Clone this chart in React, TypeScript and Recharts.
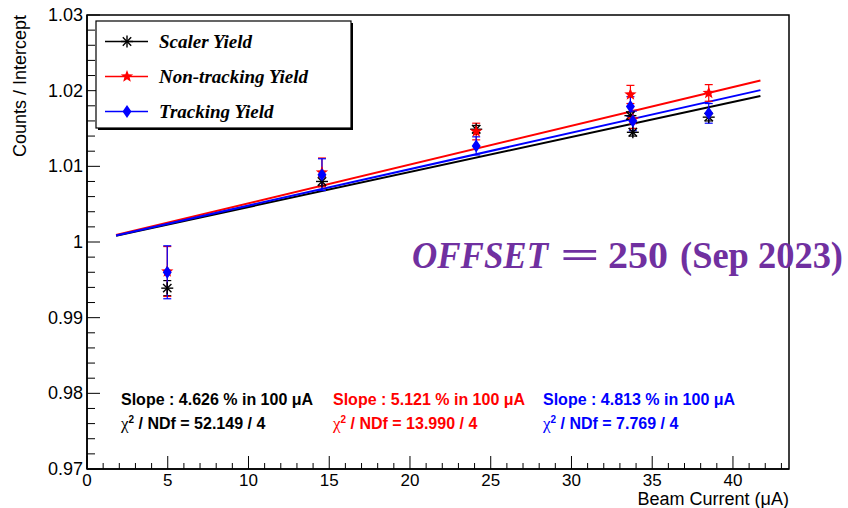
import React from "react";
import {
  ComposedChart,
  Line,
  Scatter,
  ErrorBar,
  XAxis,
  YAxis,
  ReferenceArea,
} from "recharts";

// beam currents (uA) of the six runs
const currents = [4.97, 14.55, 24.1, 33.65, 33.8, 38.5];

// yields normalised to the fit intercept
const scalerYield = [0.9939, 1.008, 1.0149, 1.0167, 1.0145, 1.0165];
const scalerErr = [0.001, 0.0006, 0.0005, 0.0005, 0.0005, 0.0005];
const nonTrackingYield = [0.9961, 1.0092, 1.0146, 1.0195, 1.0162, 1.0197];
const nonTrackingErr = [0.0033, 0.0019, 0.0011, 0.0012, 0.0012, 0.0011];
const trackingYield = [0.996, 1.0089, 1.0127, 1.0179, 1.016, 1.017];
const trackingErr = [0.0035, 0.0021, 0.0012, 0.0013, 0.0013, 0.0013];

// linear fit results
const fitRange = [1.8, 41.7];
const slopes = [4.626, 5.121, 4.813]; // % per 100 uA
const chi2 = [52.149, 13.99, 7.769];
const ndf = 4;

const seriesNames = ["Scaler Yield", "Non-tracking Yield", "Tracking Yield"];
const seriesColors = ["#000000", "#ff0000", "#0000ff"];

const xMajorTicks = [0, 5, 10, 15, 20, 25, 30, 35, 40];
const yMajorTicks = [0.97, 0.98, 0.99, 1.0, 1.01, 1.02, 1.03];

const W = 848;
const H = 508;
const SANS = "'Liberation Sans', Arial, sans-serif";
const SERIF = "'Liberation Serif', 'Times New Roman', serif";

const toPoints = (vals: number[], errs: number[]) =>
  currents.map((x, i) => ({ x, y: vals[i], err: errs[i] }));

const toFit = (slope: number) =>
  fitRange.map((x) => ({ x, y: 1 + (slope / 100) * (x / 100) }));

// minor ticks: 1 uA on x, 0.002 on y
const xTicks: number[] = [];
for (let i = 0; i <= 43; i++) xTicks.push(i);
const yTicks: number[] = [];
yMajorTicks.forEach((v, i) => {
  yTicks.push(v);
  if (i < yMajorTicks.length - 1)
    for (let k = 1; k < 5; k++) yTicks.push(+(v + k * 0.002).toFixed(3));
});

const XTick = (props: any) => {
  const { x, y, payload } = props;
  const major = xMajorTicks.includes(payload.value);
  return (
    <g>
      <line x1={x} x2={x} y1={y} y2={y - (major ? 13 : 6)} stroke="#000" />
      {major && (
        <text x={x} y={y + 17} textAnchor="middle" fontSize={17} fontFamily={SANS} fill="#000">
          {payload.value}
        </text>
      )}
    </g>
  );
};

const YTick = (props: any) => {
  const { x, y, payload } = props;
  const major = yMajorTicks.some((m) => Math.abs(m - payload.value) < 1e-6);
  return (
    <g>
      <line x1={x} x2={x + (major ? 13 : 8)} y1={y} y2={y} stroke="#000" />
      {major && (
        <text x={x - 4} y={y + 6} textAnchor="end" fontSize={18} fontFamily={SANS} fill="#000">
          {String(parseFloat(payload.value.toFixed(2)))}
        </text>
      )}
    </g>
  );
};

const Asterisk = ({ cx, cy, color = "#000", r = 6 }: any) => (
  <g stroke={color} strokeWidth={1.4}>
    <line x1={cx - r} x2={cx + r} y1={cy} y2={cy} />
    <line x1={cx} x2={cx} y1={cy - r} y2={cy + r} />
    <line x1={cx - r * 0.7} x2={cx + r * 0.7} y1={cy - r * 0.7} y2={cy + r * 0.7} />
    <line x1={cx - r * 0.7} x2={cx + r * 0.7} y1={cy + r * 0.7} y2={cy - r * 0.7} />
  </g>
);

const Star = ({ cx, cy, color = "#f00", r = 6.5 }: any) => {
  const pts: string[] = [];
  for (let i = 0; i < 10; i++) {
    const a = (Math.PI / 5) * i - Math.PI / 2;
    const rr = i % 2 === 0 ? r : r * 0.42;
    pts.push(`${cx + rr * Math.cos(a)},${cy + rr * Math.sin(a)}`);
  }
  return <polygon points={pts.join(" ")} fill={color} />;
};

const Diamond = ({ cx, cy, color = "#00f" }: any) => (
  <polygon
    points={`${cx},${cy - 6.5} ${cx + 4.5},${cy} ${cx},${cy + 6.5} ${cx - 4.5},${cy}`}
    fill={color}
  />
);

const markers = [Asterisk, Star, Diamond];

const series = [
  { pts: toPoints(scalerYield, scalerErr), fit: toFit(slopes[0]) },
  { pts: toPoints(nonTrackingYield, nonTrackingErr), fit: toFit(slopes[1]) },
  { pts: toPoints(trackingYield, trackingErr), fit: toFit(slopes[2]) },
];

const statsX = [121, 333, 543];

export default function App() {
  return (
    <div style={{ position: "absolute", left: 0, top: 0, width: W, height: H, background: "#fff" }}>
      <ComposedChart
        width={W}
        height={H}
        margin={{ top: 15, right: 59, bottom: 9, left: 27 }}
      >
        <XAxis
          dataKey="x"
          type="number"
          domain={[0, 43.47]}
          allowDataOverflow
          ticks={xTicks}
          interval={0}
          tick={<XTick />}
          tickSize={0}
          tickMargin={0}
          tickLine={false}
          axisLine={{ stroke: "#000", strokeWidth: 1.5 }}
          height={30}
        />
        <YAxis
          type="number"
          domain={[0.97, 1.03]}
          allowDataOverflow
          ticks={yTicks}
          interval={0}
          tick={<YTick />}
          tickSize={0}
          tickMargin={0}
          tickLine={false}
          axisLine={{ stroke: "#000", strokeWidth: 1.5 }}
          width={60}
        />
        <ReferenceArea
          x1={0}
          x2={43.47}
          y1={0.97}
          y2={1.03}
          fill="none"
          fillOpacity={0}
          stroke="#000"
          strokeWidth={1.5}
          ifOverflow="visible"
        />
        {series.map((s, i) => (
          <Line
            key={`fit-${i}`}
            data={s.fit}
            dataKey="y"
            type="linear"
            stroke={seriesColors[i]}
            strokeWidth={2}
            dot={false}
            activeDot={false}
            isAnimationActive={false}
          />
        ))}
        {series.map((s, i) => {
          const M = markers[i];
          return (
            <Scatter
              key={`pts-${i}`}
              data={s.pts}
              dataKey="y"
              isAnimationActive={false}
              shape={(p: any) => <M cx={p.cx} cy={p.cy} color={seriesColors[i]} />}
            >
              <ErrorBar
                dataKey="err"
                direction="y"
                width={4}
                stroke={seriesColors[i]}
                strokeWidth={1.2}
                isAnimationActive={false}
              />
            </Scatter>
          );
        })}
      </ComposedChart>

      <svg
        width={W}
        height={H}
        style={{ position: "absolute", left: 0, top: 0, pointerEvents: "none", overflow: "visible" }}
      >
        {/* axis titles */}
        <text
          x={26}
          y={15}
          transform="rotate(-90 26 15)"
          textAnchor="end"
          fontSize={18}
          fontFamily={SANS}
          fill="#000"
        >
          Counts / Intercept
        </text>
        <text x={789} y={505} textAnchor="end" fontSize={18} fontFamily={SANS} fill="#000">
          Beam Current (μA)
        </text>

        {/* legend */}
        <rect x={98} y={23} width={255} height={107} fill="#000" />
        <rect x={96} y={21} width={255} height={107} fill="#fff" stroke="#000" strokeWidth={1.2} />
        {seriesNames.map((name, i) => {
          const cy = 41.5 + i * 35;
          const M = markers[i];
          return (
            <g key={name}>
              <line x1={105} x2={148} y1={cy} y2={cy} stroke={seriesColors[i]} strokeWidth={1.3} />
              <M cx={127} cy={cy} color={seriesColors[i]} />
              <text
                x={159}
                y={cy + 6.5}
                fontSize={19}
                fontStyle="italic"
                fontWeight="bold"
                fontFamily={SERIF}
                fill="#000"
              >
                {name}
              </text>
            </g>
          );
        })}

        {/* fit statistics */}
        {slopes.map((s, i) => (
          <g key={`stat-${i}`} fontFamily={SANS} fontWeight="bold" fontSize={16} fill={seriesColors[i]}>
            <text x={statsX[i]} y={405}>
              {`Slope : ${s.toFixed(3)} % in 100  μA`}
            </text>
            <text x={statsX[i]} y={429}>
              <tspan fontFamily={SERIF} fontWeight="normal" fontSize={17}>χ</tspan>
              <tspan dy={-6} fontSize={10}>2</tspan>
              <tspan dy={6}>{` / NDf = ${chi2[i].toFixed(3)} / ${ndf}`}</tspan>
            </text>
          </g>
        ))}

        {/* run note */}
        <g fontSize={38} fontWeight="bold" fontFamily={SERIF} fill="#7030a0">
          <text x={412} y={268} fontStyle="italic" textLength={136} lengthAdjust="spacingAndGlyphs">
            OFFSET
          </text>
          <text x={560} y={268} textLength={40} lengthAdjust="spacingAndGlyphs">=</text>
          <text x={608} y={268} textLength={60} lengthAdjust="spacingAndGlyphs">250</text>
          <text x={680} y={268} textLength={163} lengthAdjust="spacingAndGlyphs">(Sep 2023)</text>
        </g>
      </svg>
    </div>
  );
}
